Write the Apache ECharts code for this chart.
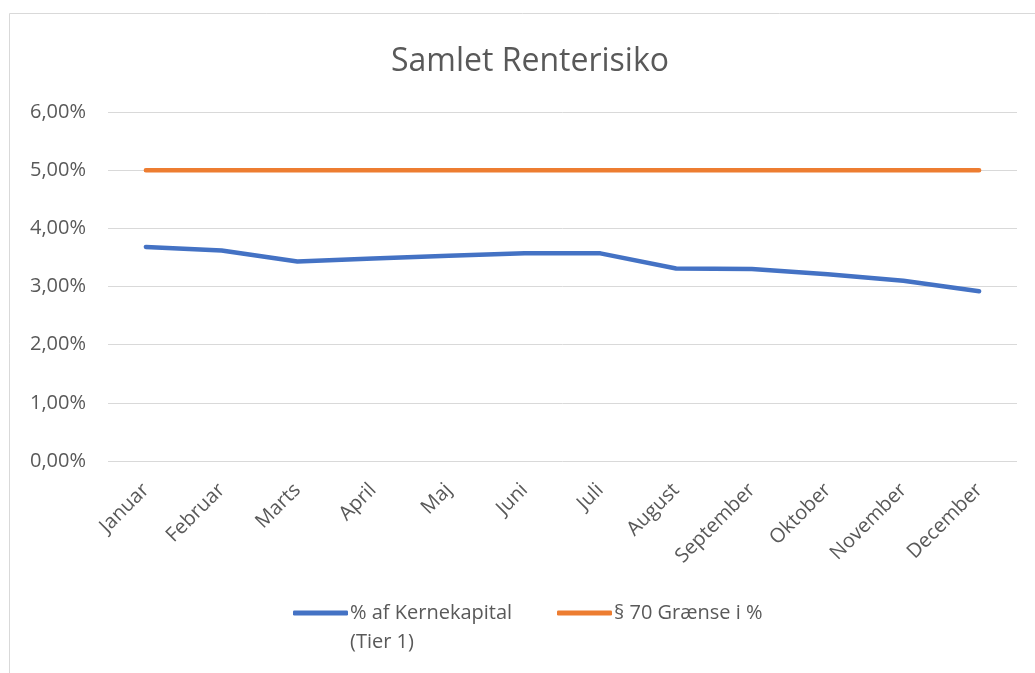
<!DOCTYPE html>
<html>
<head>
<meta charset="utf-8">
<script src="https://cdn.jsdelivr.net/npm/echarts@6/dist/echarts.min.js"></script>
<style>
	html, body { margin: 0; padding: 0; background: #fff; }
	#chart { width: 1035px; height: 673px; }
</style>
</head>
<body>
<div id="chart"></div>
<script>
	// data
	let months = ['Januar', 'Februar', 'Marts', 'April', 'Maj', 'Juni', 'Juli', 'August', 'September', 'Oktober', 'November', 'December'];
	let kernekapital = [3.68, 3.62, 3.43, 3.48, 3.53, 3.57, 3.57, 3.31, 3.30, 3.21, 3.10, 2.92];
	let graense = [5, 5, 5, 5, 5, 5, 5, 5, 5, 5, 5, 5];

	let blueName = '% af Kernekapital (Tier 1)';
	let orangeName = '§ 70 Grænse i %';
	let font = '"Open Sans", sans-serif';
	let grey = '#595959';
	let labelSize = 20;

	let chart = echarts.init(document.getElementById('chart'));

	let legendBase = {
		top: 603,
		padding: 0,
		icon: 'roundRect',
		itemWidth: 55,
		itemHeight: 5,
		itemGap: 0,
		textStyle: { color: grey, fontFamily: font, fontSize: labelSize, padding: [0, 0, 0, -3] }
	};

	chart.setOption({
		animation: false,
		graphic: [{
			type: 'rect',
			shape: { x: 9.5, y: 13.5, width: 1040, height: 680 },
			style: { fill: 'none', stroke: '#d9d9d9', lineWidth: 1 },
			silent: true
		}, {
			// second line of the wrapped legend label
			type: 'text',
			left: 350,
			top: 632,
			style: { text: '(Tier 1)', fill: grey, font: labelSize + 'px ' + font },
			silent: true
		}],
		title: {
			text: 'Samlet Renterisiko',
			left: 386,
			top: 41,
			textStyle: { color: grey, fontFamily: font, fontSize: 32, fontWeight: 'normal' }
		},
		legend: [
			Object.assign({}, legendBase, {
				left: 293,
				data: [blueName],
				formatter: function (name) { return name.replace(' (Tier 1)', ''); }
			}),
			Object.assign({}, legendBase, {
				left: 557,
				data: [orangeName]
			})
		],
		grid: { left: 108, right: 18, top: 112, bottom: 212 },
		xAxis: {
			type: 'category',
			data: months,
			axisLine: { show: false },
			axisTick: { show: false },
			axisLabel: { rotate: 45, color: grey, fontFamily: font, fontSize: labelSize, margin: 26 }
		},
		yAxis: {
			type: 'value',
			min: 0,
			max: 6,
			interval: 1,
			axisLabel: {
				color: grey, fontFamily: font, fontSize: labelSize, margin: 22,
				formatter: function (v) { return v.toFixed(2).replace('.', ',') + '%'; }
			},
			splitLine: { lineStyle: { color: '#d9d9d9', width: 1 } }
		},
		series: [{
			name: blueName,
			type: 'line',
			data: kernekapital,
			symbol: 'none',
			lineStyle: { color: '#4472C4', width: 4.5, cap: 'round', join: 'round' },
			itemStyle: { color: '#4472C4' }
		}, {
			name: orangeName,
			type: 'line',
			data: graense,
			symbol: 'none',
			lineStyle: { color: '#ED7D31', width: 4.5, cap: 'round' },
			itemStyle: { color: '#ED7D31' }
		}]
	});
</script>
</body>
</html>
